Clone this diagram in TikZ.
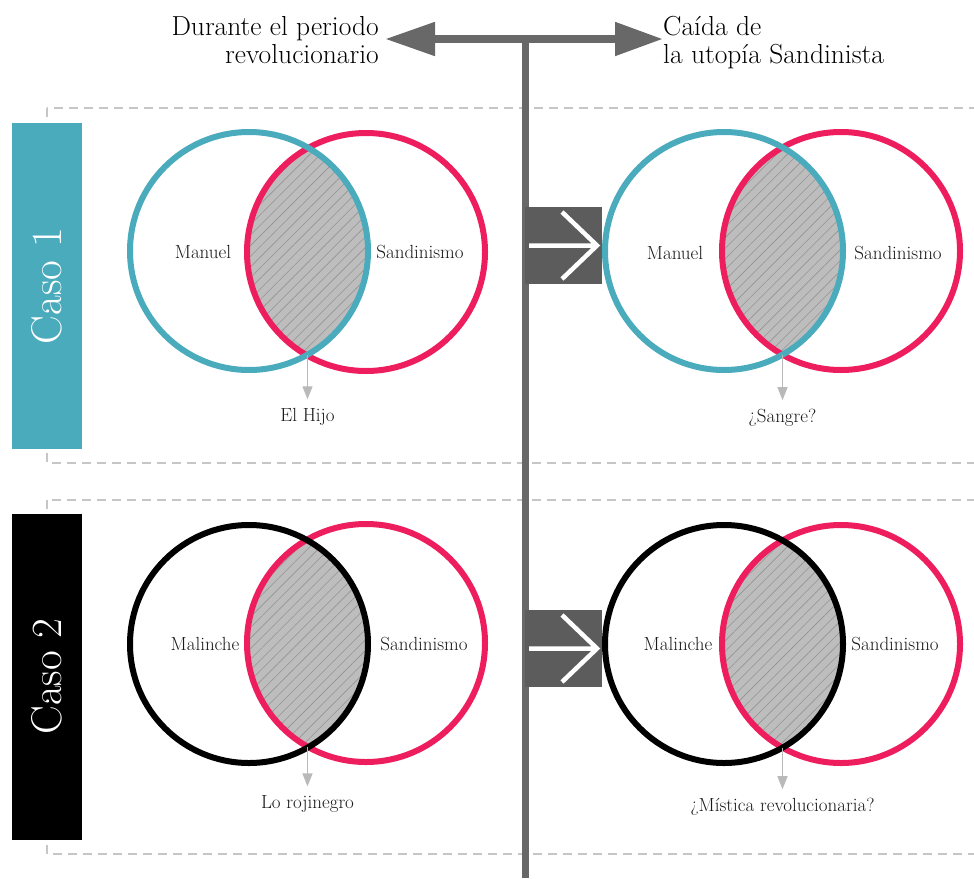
\documentclass[tikz,border=0pt]{standalone}
\usetikzlibrary{arrows.meta, patterns.meta, positioning}
\definecolor{tealset}{HTML}{4AABBC}
\definecolor{pinkset}{HTML}{EE1E5E}
\definecolor{axisgray}{HTML}{686868}
\definecolor{boxgray}{HTML}{5C5C5C}

\begin{document}
\begin{tikzpicture}[x=1pt, y=-1pt,
        ring/.style={draw=#1, circle, line width=6pt, minimum size=238pt, inner sep=0pt},
        lbl/.style={font=\fontsize{19}{22}\selectfont, text=black!90, inner sep=0pt},
        title/.style={font=\fontsize{27.5}{28}\selectfont, inner sep=0pt},
        casebox/.style={fill=#1, rotate=90, minimum width=326pt, minimum height=70pt, inner sep=0pt, text=white, font=\fontsize{43}{46}\selectfont},
        framed/.style={draw=gray!45, line width=1.5pt, dash pattern=on 9pt off 6pt},
        lens/.style={fill=gray!52},
        hatch/.style={pattern={Lines[angle=45, distance=7.5pt, line width=0.6pt]}, pattern color=gray!85},
        outarrow/.style={draw=gray!55, line width=1.3pt, -{Triangle[length=13pt, width=10pt]}, shorten >=9pt},
        gobox/.style={fill=boxgray, minimum size=77pt, inner sep=0pt},
        goarrow/.style={white, line width=4.5pt}
    ]
    \useasboundingbox (0,0) rectangle (974,878);

    % dashed frames round the two cases
    \draw[framed] (47,108) rectangle (990,463);
    \draw[framed] (47,500) rectangle (990,854);

    % time axis
    \coordinate (past) at (385,39);
    \coordinate (fall) at (663,39);
    \coordinate (axtop) at (525,39);
    \coordinate (axbot) at (525,878);
    \draw[axisgray, line width=7pt] (axtop) -- (axbot);
    \draw[axisgray, line width=8pt, {Triangle[length=50pt, width=32pt]}-{Triangle[length=48pt, width=32pt]}] (past) -- (fall);
    \node[title, anchor=north east, align=right] (pastlbl) at (379,16) {Durante el periodo\\revolucionario};
    \node[title, anchor=north west, align=left] (falllbl) at (663,16) {Caída de\\la utopía Sandinista};

    % case labels
    \node[casebox=tealset] (caso1) at (47,286) {Caso 1};
    \node[casebox=black] (caso2) at (47,676.5) {Caso 2};

    % transition boxes
    \node[gobox] (go1) at (563.5,245.5) {};
    \node[gobox] (go2) at (563.5,648.5) {};
    \draw[goarrow] (529,245.5) -- (597,245.5) (562,212) -- (597,245.5) -- (562,279);
    \draw[goarrow] (529,648.5) -- (597,648.5) (562,615) -- (597,648.5) -- (562,682);

    % case 1, before
    \begin{scope}
        \clip (249,251) circle[radius=119pt];
        \fill[lens] (366,252) circle[radius=119pt];
        \fill[hatch] (366,252) circle[radius=119pt];
    \end{scope}
    \node[ring=pinkset] (sand1) at (366,252) {};
    \node[ring=tealset] (manuel1) at (249,251) {};
    \node[lbl] at (203,252) {Manuel};
    \node[lbl] at (420,252) {Sandinismo};
    \coordinate (cut1) at (307.5,355);
    \node[lbl] (hijo) at (307.5,417) {El Hijo};
    \draw[outarrow] (cut1) -- (hijo.north);

    % case 1, after
    \begin{scope}
        \clip (724,251) circle[radius=119pt];
        \fill[lens] (841,251) circle[radius=119pt];
        \fill[hatch] (841,251) circle[radius=119pt];
    \end{scope}
    \node[ring=pinkset] (sand2) at (841,251) {};
    \node[ring=tealset] (manuel2) at (724,251) {};
    \node[lbl] at (675,253) {Manuel};
    \node[lbl] at (898,253) {Sandinismo};
    \coordinate (cut2) at (782.5,355);
    \node[lbl] (sangre) at (782.5,418) {¿Sangre?};
    \draw[outarrow] (cut2) -- (sangre.north);

    % case 2, before
    \begin{scope}
        \clip (249,644) circle[radius=119pt];
        \fill[lens] (366,643) circle[radius=119pt];
        \fill[hatch] (366,643) circle[radius=119pt];
    \end{scope}
    \node[ring=pinkset] (sand3) at (366,643) {};
    \node[ring=black] (malinche1) at (249,644) {};
    \node[lbl] at (205,644) {Malinche};
    \node[lbl] at (424,644) {Sandinismo};
    \coordinate (cut3) at (307.5,747);
    \node[lbl] (rojinegro) at (307.5,804) {Lo rojinegro};
    \draw[outarrow] (cut3) -- (rojinegro.north);

    % case 2, after
    \begin{scope}
        \clip (724,644) circle[radius=119pt];
        \fill[lens] (841,644) circle[radius=119pt];
        \fill[hatch] (841,644) circle[radius=119pt];
    \end{scope}
    \node[ring=pinkset] (sand4) at (841,644) {};
    \node[ring=black] (malinche2) at (724,644) {};
    \node[lbl] at (678,644) {Malinche};
    \node[lbl] at (895,644) {Sandinismo};
    \coordinate (cut4) at (782.5,747.5);
    \node[lbl] (mistica) at (782.5,807) {¿Mística revolucionaria?};
    \draw[outarrow] (cut4) -- (mistica.north);
\end{tikzpicture}
\end{document}
